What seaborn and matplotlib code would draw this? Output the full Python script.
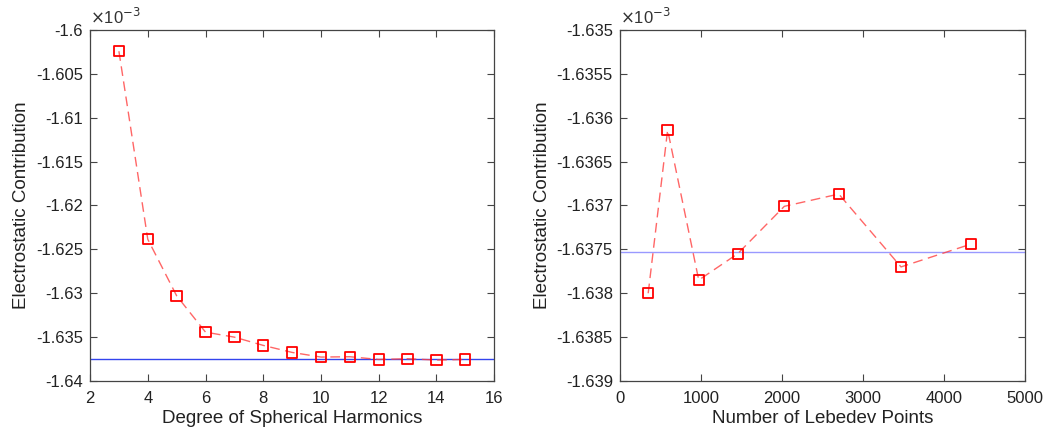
import numpy as np
import pandas as pd
import matplotlib
matplotlib.use('Agg')
import matplotlib.pyplot as plt
import seaborn as sns
from matplotlib.ticker import FuncFormatter, MultipleLocator

# degree of spherical harmonics vs electrostatic contribution
DEGREE = [3, 4, 5, 6, 7, 8, 9, 10, 11, 12, 13, 14, 15]
DEGREE_VALUES = [-1.60243e-3, -1.62385e-3, -1.63029e-3, -1.63443e-3, -1.63500e-3,
                 -1.63594e-3, -1.63674e-3, -1.63727e-3, -1.63723e-3, -1.63754e-3,
                 -1.63746e-3, -1.63761e-3, -1.63754e-3]
REF_DEGREE = -1.637535e-3

# number of lebedev points vs electrostatic contribution
LEBEDEV = [350, 590, 974, 1454, 2030, 2702, 3470, 4334]
LEBEDEV_VALUES = [-1.63800e-3, -1.63614e-3, -1.63785e-3, -1.63755e-3,
                  -1.63701e-3, -1.63687e-3, -1.63770e-3, -1.63744e-3]
REF_LEBEDEV = -1.637529e-3

sns.set_style('white')
plt.rcParams['font.family'] = ['Liberation Sans', 'DejaVu Sans']


def style_axes(ax):
    """MATLAB-like box with inward ticks on all sides."""
    for sp in ax.spines.values():
        sp.set_color('#444444')
        sp.set_linewidth(0.9)
    ax.tick_params(direction='in', length=5, width=0.8, color='#444444',
                   top=True, right=True, bottom=True, left=True, pad=5,
                   labelsize=12, labelcolor='#222222')
    ax.tick_params(axis='x', pad=7)
    ax.yaxis.set_major_formatter(FuncFormatter(lambda v, p: f'{v * 1e3:g}'))
    ax.text(0.0, 1.008, r'$\times$10$^{-3}$', transform=ax.transAxes,
            fontsize=12, color='#333333', ha='left', va='bottom')


def draw_series(ax, x, y, ref, ref_color):
    df = pd.DataFrame({'x': x, 'y': y})
    ax.axhline(ref, color=ref_color, linewidth=1.0, zorder=1)
    sns.lineplot(data=df, x='x', y='y', ax=ax, color='#ff4040', alpha=0.8,
                 linewidth=1.0, linestyle=(0, (7, 4)), zorder=2)
    sns.scatterplot(data=df, x='x', y='y', ax=ax, marker='s', s=55,
                    facecolor='none', edgecolor='#ff0000', linewidth=1.3, zorder=3)


fig = plt.figure(figsize=(10.47, 4.33), dpi=100)
ax1 = fig.add_axes([0.086, 0.120, 0.386, 0.811])
ax2 = fig.add_axes([0.592, 0.120, 0.387, 0.811])

draw_series(ax1, DEGREE, DEGREE_VALUES, REF_DEGREE, '#3344ee')
ax1.set_xlim(2, 16)
ax1.set_ylim(-1.64e-3, -1.6e-3)
ax1.xaxis.set_major_locator(MultipleLocator(2))
ax1.yaxis.set_major_locator(MultipleLocator(0.005e-3))
ax1.set_xlabel('Degree of Spherical Harmonics', fontsize=13.5, color='#222222', labelpad=3)
ax1.set_ylabel('Electrostatic Contribution', fontsize=13.5, color='#222222', labelpad=4)
style_axes(ax1)

draw_series(ax2, LEBEDEV, LEBEDEV_VALUES, REF_LEBEDEV, '#9999ff')
ax2.set_xlim(0, 5000)
ax2.set_ylim(-1.639e-3, -1.635e-3)
ax2.xaxis.set_major_locator(MultipleLocator(1000))
ax2.yaxis.set_major_locator(MultipleLocator(0.0005e-3))
ax2.set_xlabel('Number of Lebedev Points', fontsize=13.5, color='#222222', labelpad=3)
ax2.set_ylabel('Electrostatic Contribution', fontsize=13.5, color='#222222', labelpad=4)
style_axes(ax2)

fig.savefig('out.png', dpi=100)
